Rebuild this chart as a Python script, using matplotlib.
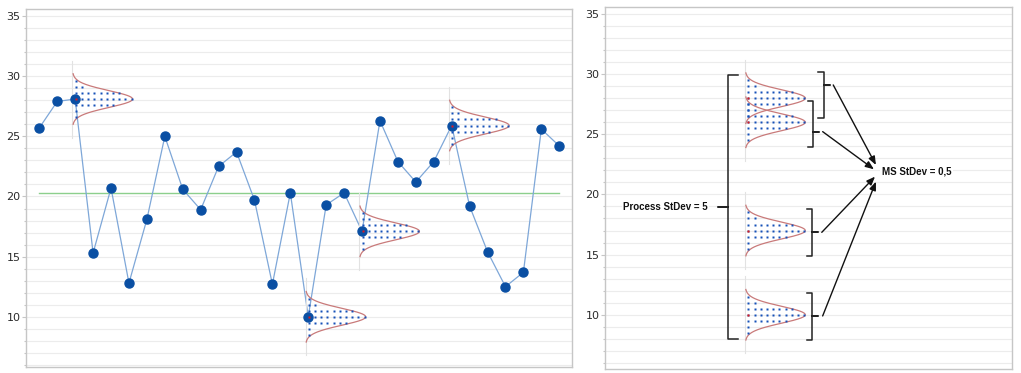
import numpy as np
import matplotlib.pyplot as plt

# individual values (left run chart)
values = [25.7, 27.9, 28.1, 15.3, 20.7, 12.8, 18.1, 25.0, 20.6, 18.9,
          22.5, 23.7, 19.7, 12.7, 20.3, 10.0, 19.3, 20.3, 17.1, 26.3,
          22.9, 21.2, 22.9, 25.9, 19.2, 15.4, 12.5, 13.7, 25.6, 24.2]
dist_points = [2, 15, 18, 23]          # points that get a measurement spread drawn
right_means = [28, 26, 17, 10]         # same spreads stacked on the right panel
row_offsets = [1.5, 1.0, 0.5, 0.0, -0.5, -1.0, -1.5]
row_counts = [1, 2, 8, 10, 7, 1, 1]
process_sd = "5"
ms_sd = "0,5"

# bracket geometry on the right panel: (x_vert, x_serif, x_tip, top, bottom, tip_y)
brackets = [(12.23, 11.90, 12.55, 30.15, 26.38, 29.10),
            (11.62, 11.34, 11.95, 27.77, 23.97, 25.22),
            (11.56, 11.27, 11.88, 18.79, 14.91, 16.85),
            (11.56, 11.27, 11.88, 11.78, 7.90, 9.90)]
arrows = [((12.73, 29.10), (15.11, 22.45)),
          ((12.14, 25.22), (15.00, 22.09)),
          ((12.09, 16.85), (15.06, 21.48)),
          ((12.14, 9.90), (15.11, 21.06))]

GRID = '#ececec'
SPINE = '#c6c6c6'


def style_axes(ax, ylim):
    ax.set_ylim(*ylim)
    ax.set_yticks(range(10, 36, 5))
    ax.set_yticks(range(6, 36), minor=True)
    ax.set_xticks([])
    ax.grid(which='both', axis='y', color=GRID, lw=0.8, zorder=0)
    ax.tick_params(axis='y', which='major', length=3, width=0.8, color=SPINE,
                   labelsize=8, labelcolor='#2a2a2a', pad=1)
    ax.tick_params(axis='y', which='minor', length=1.6, width=0.8, color=SPINE)
    for s in ax.spines.values():
        s.set_color(SPINE)
        s.set_linewidth(1)


def draw_dist(ax, x0, m, sigma=0.7, peak=3.35, dx=0.346):
    ax.plot([x0, x0], [m - 3.2, m + 3.2], color='#e2e2e2', lw=0.8, zorder=3)
    yy = np.linspace(m - 2.1, m + 2.1, 300)
    ax.plot(x0 + peak * np.exp(-(yy - m) ** 2 / (2 * sigma ** 2)), yy,
            color='#c97a7a', lw=0.9, zorder=5)
    for off, n in zip(row_offsets, row_counts):
        xs = x0 + 0.18 + dx * np.arange(n)
        ax.plot(xs, np.full(n, m + off), 's', ms=1.8, color='#1550b8',
                mec='none', zorder=6)
    ax.plot(x0 + 0.18, m, 's', ms=2.1, color='#e01818', mec='none', zorder=7)


fig = plt.figure(figsize=(10.21, 3.73), dpi=100)

# left panel: run chart
ax1 = fig.add_axes([26 / 1021, 6.3 / 373, 546 / 1021, 357.4 / 373])
style_axes(ax1, (5.85, 35.56))
ax1.set_xlim(-0.742, 29.71)
x = np.arange(len(values))
ax1.plot([x[0], x[-1]], [np.mean(values)] * 2, color='#8ccf8c', lw=1, zorder=2)
ax1.plot(x, values, color='#7ea7d8', lw=0.9, zorder=3)
ax1.plot(x, values, 'o', ms=6.5, color='#0a4fa3', mec='#0a4fa3', zorder=4)
for i in dist_points:
    draw_dist(ax1, i - 0.15, values[i])

# right panel: stacked spreads
ax2 = fig.add_axes([605 / 1021, 4 / 373, 407 / 1021, 362 / 373])
style_axes(ax2, (5.49, 35.58))
ax2.set_xlim(0, 22.70)
for m in right_means:
    draw_dist(ax2, 7.82, m)

# big brace for process spread
top, bot, mid = 29.95, 7.96, 18.98
ax2.plot([7.40, 6.84, 6.84, 6.32, 6.84, 6.84, 7.40],
         [top, top, mid, mid, mid, bot, bot], color='#222222', lw=1.1, zorder=8)
ax2.text(5.73, mid, 'Process StDev = ' + process_sd, ha='right', va='center',
         fontsize=7, fontweight='bold', family='Liberation Sans', color='#111111',
         bbox=dict(facecolor='white', edgecolor='none', pad=1), zorder=9)

for xv, xs, xt, t, b, ty in brackets:
    ax2.plot([xs, xv, xv, xt, xv, xv, xs], [t, t, ty, ty, ty, b, b],
             color='#222222', lw=1.1, zorder=8)
for start, end in arrows:
    ax2.annotate('', xy=end, xytext=start, zorder=8,
                 arrowprops=dict(arrowstyle='-|>,head_length=0.5,head_width=0.2',
                                 color='#111111', lw=1, shrinkA=0, shrinkB=0))
ax2.text(15.43, 21.9, 'MS StDev = ' + ms_sd, ha='left', va='center',
         fontsize=7, fontweight='bold', family='Liberation Sans', color='#111111',
         bbox=dict(facecolor='white', edgecolor='none', pad=1), zorder=9)

fig.savefig('out.png', dpi=100)
